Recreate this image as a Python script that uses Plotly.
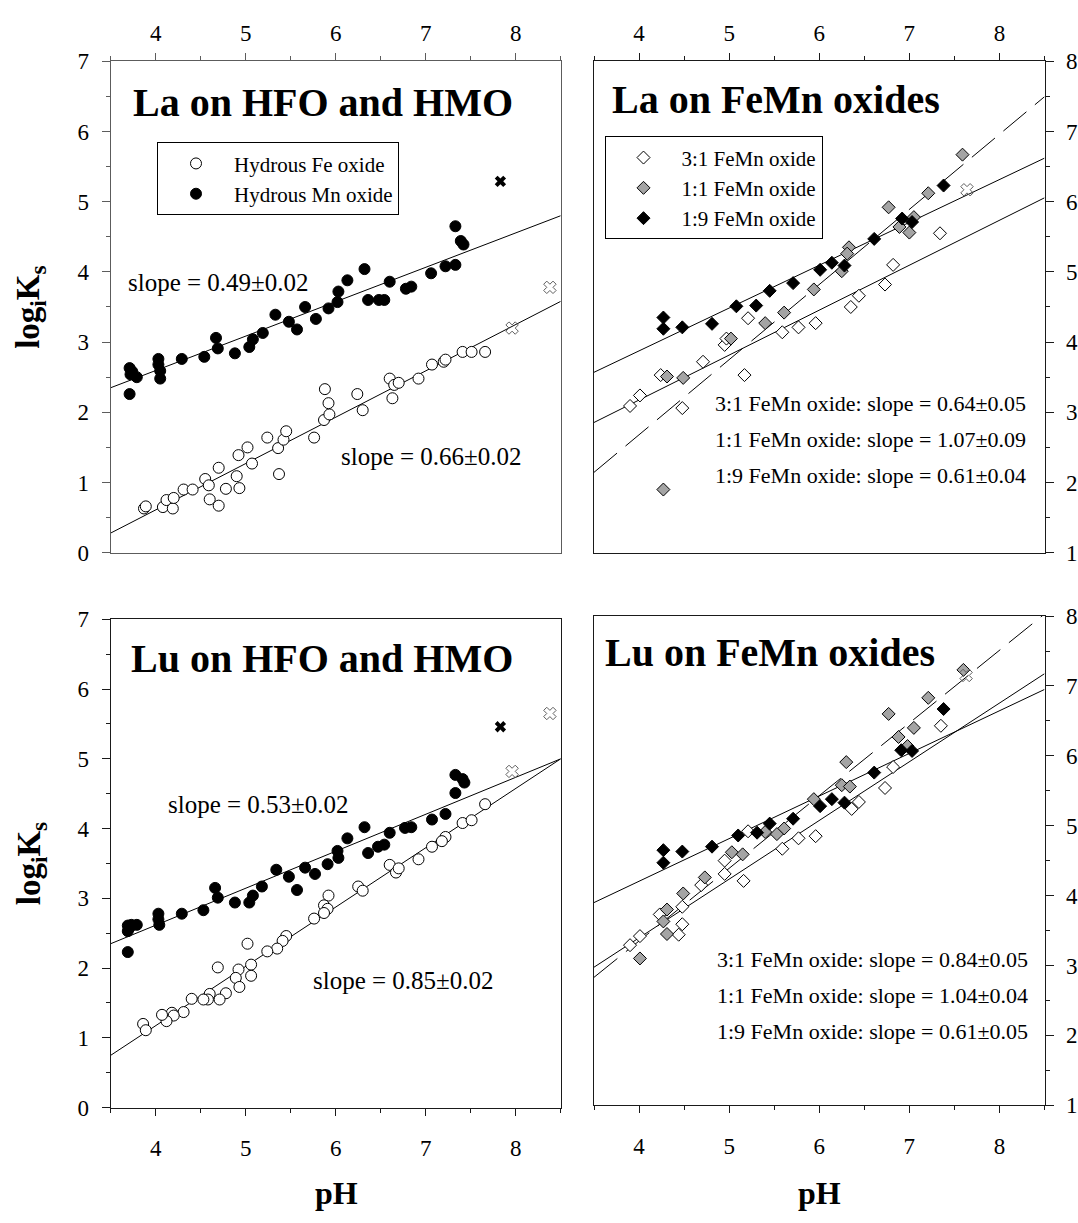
import plotly.graph_objects as go

W, H = 1078, 1223
FONT = '"Liberation Serif", "Times New Roman", Times, serif'

# ---------------- La on hydrous Fe / Mn oxides ----------------
la_fe_ph = [3.87, 3.89, 4.08, 4.12, 4.19, 4.20, 4.31, 4.41, 4.55, 4.59, 4.60, 4.70, 4.70, 4.78,
            4.90, 4.93, 4.92, 5.02, 5.07, 5.24, 5.37, 5.36, 5.42, 5.45, 5.76, 5.87, 5.93, 5.92,
            5.88, 6.24, 6.30, 6.60, 6.63, 6.65, 6.70, 6.92, 7.07, 7.20, 7.22, 7.41, 7.51, 7.66]
la_fe_logk = [0.63, 0.66, 0.65, 0.75, 0.63, 0.78, 0.90, 0.90, 1.05, 0.96, 0.76, 0.67, 1.21, 0.91,
              1.09, 0.92, 1.39, 1.50, 1.27, 1.64, 1.12, 1.49, 1.61, 1.73, 1.64, 1.89, 1.97, 2.13,
              2.33, 2.26, 2.03, 2.48, 2.20, 2.39, 2.42, 2.48, 2.68, 2.72, 2.75, 2.86, 2.86, 2.86]
la_mn_ph = [7.33, 7.39, 7.42, 7.22, 7.33, 7.06, 6.32, 6.13, 6.60, 6.78, 6.84, 6.03, 6.36, 6.48,
            6.54, 5.66, 5.92, 6.02, 5.78, 5.48, 5.57, 5.33, 5.19, 5.08, 5.04, 4.88, 4.67, 4.69,
            4.54, 4.29, 4.03, 4.03, 4.05, 4.05, 3.71, 3.74, 3.72, 3.79, 3.71]
la_mn_logk = [4.65, 4.44, 4.39, 4.08, 4.10, 3.98, 4.04, 3.88, 3.86, 3.76, 3.79, 3.72, 3.60, 3.60,
              3.60, 3.50, 3.48, 3.57, 3.33, 3.29, 3.18, 3.39, 3.13, 3.04, 2.93, 2.84, 3.06, 2.91,
              2.79, 2.76, 2.76, 2.68, 2.59, 2.48, 2.63, 2.58, 2.54, 2.50, 2.26]
la_hox_cross_dark = ([7.83], [5.29])
la_hox_cross_grey = ([8.38, 7.96], [3.78, 3.20])
la_fe_slope, la_fe_at6 = 0.66, 1.93
la_mn_slope, la_mn_at6 = 0.49, 3.575

# ---------------- La on FeMn binary oxides ----------------
la_31_ph = [7.34, 6.82, 6.73, 6.44, 6.35, 5.96, 5.77, 5.59, 5.21, 4.95, 4.97, 5.17, 4.71, 4.24,
            4.01, 3.90, 4.48]
la_31_logk = [5.55, 5.10, 4.82, 4.66, 4.50, 4.27, 4.21, 4.14, 4.34, 3.96, 4.05, 3.53, 3.72, 3.53,
              3.24, 3.09, 3.06]
la_11_ph = [7.59, 7.21, 6.77, 7.05, 6.89, 7.00, 6.33, 6.31, 6.25, 5.94, 5.61, 5.40, 5.02, 4.31,
            4.49, 4.27]
la_11_logk = [6.67, 6.12, 5.92, 5.78, 5.64, 5.56, 5.35, 5.26, 5.01, 4.75, 4.42, 4.27, 4.05, 3.51,
              3.49, 1.90]
la_19_ph = [7.38, 6.92, 7.03, 6.61, 6.28, 6.14, 6.01, 5.71, 5.45, 5.30, 5.08, 4.81, 4.48, 4.27, 4.27]
la_19_logk = [6.23, 5.76, 5.71, 5.47, 5.09, 5.13, 5.03, 4.84, 4.73, 4.52, 4.51, 4.26, 4.21, 4.35, 4.19]
la_femn_cross_grey = ([7.64], [6.17])
la_31_slope, la_31_at6 = 0.64, 4.455
la_11_slope, la_11_at6 = 1.07, 4.82
la_19_slope, la_19_at6 = 0.61, 5.095

# ---------------- Lu on hydrous Fe / Mn oxides ----------------
lu_fe_ph = [7.66, 7.41, 7.51, 7.22, 7.18, 7.07, 6.92, 6.60, 6.67, 6.70, 6.25, 6.30, 5.92, 5.87,
            5.91, 5.87, 5.76, 5.45, 5.41, 5.35, 5.24, 5.02, 5.06, 5.06, 4.92, 4.89, 4.93, 4.69,
            4.78, 4.60, 4.58, 4.71, 4.53, 4.40, 4.31, 4.18, 4.20, 4.12, 4.07, 3.86, 3.89]
lu_fe_logk = [4.35, 4.08, 4.12, 3.88, 3.82, 3.74, 3.56, 3.48, 3.37, 3.43, 3.17, 3.11, 3.04, 2.90,
              2.85, 2.79, 2.71, 2.46, 2.39, 2.28, 2.24, 2.35, 2.05, 1.89, 1.98, 1.86, 1.73, 2.01,
              1.64, 1.63, 1.55, 1.55, 1.55, 1.56, 1.37, 1.36, 1.32, 1.24, 1.33, 1.20, 1.11]
lu_mn_ph = [7.33, 7.41, 7.43, 7.33, 7.22, 7.07, 6.77, 6.84, 6.32, 6.60, 6.13, 6.47, 6.54, 6.36,
            6.02, 6.03, 5.91, 5.77, 5.66, 5.34, 5.48, 5.57, 5.18, 5.08, 5.04, 4.88, 4.66, 4.69,
            4.53, 4.29, 4.03, 4.03, 4.04, 3.69, 3.73, 3.79, 3.69, 3.71, 3.69]
lu_mn_logk = [4.77, 4.71, 4.66, 4.51, 4.21, 4.13, 4.01, 4.02, 4.02, 3.94, 3.86, 3.74, 3.77, 3.65,
              3.68, 3.58, 3.49, 3.35, 3.44, 3.41, 3.31, 3.12, 3.17, 3.04, 2.94, 2.94, 3.15, 3.01,
              2.83, 2.78, 2.78, 2.70, 2.62, 2.61, 2.62, 2.62, 2.53, 2.58, 2.23]
lu_hox_cross_dark = ([7.83], [5.46])
lu_hox_cross_grey = ([8.38, 7.96], [5.65, 4.82])
lu_fe_slope, lu_fe_at6 = 0.85, 2.875
lu_mn_slope, lu_mn_at6 = 0.53, 3.675

# ---------------- Lu on FeMn binary oxides ----------------
lu_31_ph = [7.35, 6.82, 6.73, 6.44, 6.36, 5.96, 5.77, 5.59, 5.21, 4.95, 4.95, 5.16, 4.69, 4.48,
            4.23, 4.48, 4.44, 4.01, 3.90]
lu_31_logk = [6.43, 5.84, 5.54, 5.34, 5.24, 4.85, 4.82, 4.67, 4.92, 4.50, 4.31, 4.21, 4.15, 3.84,
              3.73, 3.59, 3.44, 3.42, 3.29]
lu_11_ph = [7.60, 7.21, 6.77, 7.05, 6.88, 6.98, 6.30, 6.25, 6.34, 5.94, 5.61, 5.53, 5.40, 5.03,
            5.15, 4.73, 4.49, 4.31, 4.27, 4.31, 4.01]
lu_11_logk = [7.23, 6.83, 6.60, 6.40, 6.27, 6.14, 5.91, 5.58, 5.56, 5.38, 4.96, 4.88, 4.91, 4.62,
              4.59, 4.26, 4.03, 3.80, 3.63, 3.45, 3.10]
lu_19_ph = [7.38, 6.91, 7.03, 6.61, 6.28, 6.14, 6.01, 5.71, 5.45, 5.31, 5.10, 4.81, 4.48, 4.27, 4.27]
lu_19_logk = [6.67, 6.08, 6.07, 5.76, 5.33, 5.38, 5.28, 5.10, 5.03, 4.90, 4.86, 4.70, 4.63, 4.65, 4.47]
lu_femn_cross_grey = ([7.63], [7.15])
lu_31_slope, lu_31_at6 = 0.84, 5.075
lu_11_slope, lu_11_at6 = 1.04, 5.43
lu_19_slope, lu_19_at6 = 0.61, 5.425

PH_RANGE = [3.5, 8.5]
PH_TICKS = [4, 5, 6, 7, 8]

fig = go.Figure()


def fit_line(slope, at6, xa, ya, dash="solid"):
    xs = PH_RANGE
    ys = [at6 + slope * (x - 6.0) for x in xs]
    fig.add_trace(go.Scatter(x=xs, y=ys, mode="lines", xaxis=xa, yaxis=ya, showlegend=False,
                             line=dict(color="black", width=1, dash=dash), hoverinfo="skip"))


def points(xs, ys, xa, ya, symbol, fill, size, name=None, legend=None, line_color="black"):
    fig.add_trace(go.Scatter(
        x=xs, y=ys, mode="markers", xaxis=xa, yaxis=ya, name=name,
        showlegend=name is not None, legend=legend,
        marker=dict(symbol=symbol, size=size, color=fill,
                    line=dict(color=line_color, width=1))))


def crosses(dark, grey, xa, ya):
    if dark is not None:
        fig.add_trace(go.Scatter(x=dark[0], y=dark[1], mode="markers", xaxis=xa, yaxis=ya,
                                 showlegend=False,
                                 marker=dict(symbol="x", size=10, color="black", line=dict(width=0))))
    fig.add_trace(go.Scatter(x=grey[0], y=grey[1], mode="markers", xaxis=xa, yaxis=ya,
                             showlegend=False,
                             marker=dict(symbol="x-open", size=11, color="#5e5e5e",
                                         line=dict(width=1, color="#5e5e5e"))))


DASH = "30px,11px"
GREY = "#a4a4a4"

# top left: La on HFO / HMO
fit_line(la_mn_slope, la_mn_at6, "x", "y")
fit_line(la_fe_slope, la_fe_at6, "x", "y")
points(la_fe_ph, la_fe_logk, "x", "y", "circle", "white", 11, "Hydrous Fe oxide", "legend")
points(la_mn_ph, la_mn_logk, "x", "y", "circle", "black", 11, "Hydrous Mn oxide", "legend")
crosses(la_hox_cross_dark, la_hox_cross_grey, "x", "y")

# top right: La on FeMn oxides
fit_line(la_31_slope, la_31_at6, "x2", "y2")
fit_line(la_19_slope, la_19_at6, "x2", "y2")
fit_line(la_11_slope, la_11_at6, "x2", "y2", DASH)
points(la_31_ph, la_31_logk, "x2", "y2", "diamond", "white", 10, "3:1 FeMn oxide", "legend2")
points(la_11_ph, la_11_logk, "x2", "y2", "diamond", GREY, 10, "1:1 FeMn oxide", "legend2")
points(la_19_ph, la_19_logk, "x2", "y2", "diamond", "black", 10, "1:9 FeMn oxide", "legend2")
crosses(None, la_femn_cross_grey, "x2", "y2")

# bottom left: Lu on HFO / HMO
fit_line(lu_mn_slope, lu_mn_at6, "x3", "y3")
fit_line(lu_fe_slope, lu_fe_at6, "x3", "y3")
points(lu_fe_ph, lu_fe_logk, "x3", "y3", "circle", "white", 11)
points(lu_mn_ph, lu_mn_logk, "x3", "y3", "circle", "black", 11)
crosses(lu_hox_cross_dark, lu_hox_cross_grey, "x3", "y3")

# bottom right: Lu on FeMn oxides
fit_line(lu_31_slope, lu_31_at6, "x4", "y4")
fit_line(lu_19_slope, lu_19_at6, "x4", "y4")
fit_line(lu_11_slope, lu_11_at6, "x4", "y4", DASH)
points(lu_31_ph, lu_31_logk, "x4", "y4", "diamond", "white", 10)
points(lu_11_ph, lu_11_logk, "x4", "y4", "diamond", GREY, 10)
points(lu_19_ph, lu_19_logk, "x4", "y4", "diamond", "black", 10)
crosses(None, lu_femn_cross_grey, "x4", "y4")

TICKFONT = dict(family=FONT, size=23, color="black")


def xaxis(domain, anchor, side, color, standoff):
    return dict(domain=domain, anchor=anchor, side=side, range=PH_RANGE,
                tickmode="array", tickvals=PH_TICKS,
                ticks="outside", ticklen=7, tickwidth=1, tickcolor=color,
                minor=dict(ticks="outside", ticklen=4, dtick=0.5, tick0=0,
                           tickcolor=color, tickwidth=1, showgrid=False),
                showline=True, linecolor=color, linewidth=1, mirror=True,
                showgrid=False, zeroline=False, tickfont=TICKFONT,
                ticklabelstandoff=standoff)


def yaxis(domain, anchor, side, lo, color):
    return dict(domain=domain, anchor=anchor, side=side, range=[lo, lo + 7],
                tickmode="linear", tick0=0, dtick=1,
                ticks="outside", ticklen=8, tickwidth=1, tickcolor=color,
                minor=dict(ticks="outside", ticklen=4, dtick=0.5, tick0=0,
                           tickcolor=color, tickwidth=1, showgrid=False),
                showline=True, linecolor=color, linewidth=1, mirror=True,
                showgrid=False, zeroline=False, tickfont=TICKFONT,
                ticklabelstandoff=8)


X_L = [110.7 / W, 560.7 / W]
X_R = [594.0 / W, 1044.5 / W]
Y_T = [1 - 552.0 / H, 1 - 50.3 / H]
Y_BL = [1 - 1118.5 / H, 1 - 620.0 / H]
Y_BR = [1 - 1116.0 / H, 1 - 616.7 / H]

FRAME_TL = "#5c5c5c"
FRAME = "#1a1a1a"

legend_common = dict(xanchor="left", yanchor="top", bordercolor="black", borderwidth=1,
                     bgcolor="white", font=dict(family=FONT, size=21, color="black"),
                     itemwidth=66, tracegroupgap=0, itemclick=False)

fig.update_layout(
    width=W, height=H, margin=dict(l=0, r=0, t=0, b=0),
    paper_bgcolor="white", plot_bgcolor="white",
    font=dict(family=FONT, color="black"),
    xaxis=xaxis(X_L, "y", "top", FRAME_TL, 3),
    yaxis=yaxis(Y_T, "x", "left", 0, FRAME_TL),
    xaxis2=xaxis(X_R, "y2", "top", FRAME, 3),
    yaxis2=yaxis(Y_T, "x2", "right", 1, FRAME),
    xaxis3=xaxis(X_L, "y3", "bottom", FRAME, 13),
    yaxis3=yaxis(Y_BL, "x3", "left", 0, FRAME),
    xaxis4=xaxis(X_R, "y4", "bottom", FRAME, 13),
    yaxis4=yaxis(Y_BR, "x4", "right", 1, FRAME),
    legend=dict(x=157 / W, y=1 - 133 / H, **legend_common),
    legend2=dict(x=604.5 / W, y=1 - 127 / H, **legend_common),
)


def note(text, x, y, xa, ya, size, bold=False, anchor="left"):
    fig.add_annotation(text=f"<b>{text}</b>" if bold else text, x=x, y=y, xref=xa, yref=ya,
                       xanchor=anchor, yanchor="middle", showarrow=False,
                       font=dict(family=FONT, size=size, color="black"))


# panel titles
note("La on HFO and HMO", 3.73, 6.41, "x", "y", 40, bold=True)
note("La on FeMn oxides", 3.68, 7.46, "x2", "y2", 40, bold=True)
note("Lu on HFO and HMO", 3.70, 6.44, "x3", "y3", 40, bold=True)
note("Lu on FeMn oxides", 3.60, 7.48, "x4", "y4", 40, bold=True)

# slope labels
note(f"slope = {la_mn_slope:.2f}\u00b10.02", 3.67, 3.85, "x", "y", 25)
note(f"slope = {la_fe_slope:.2f}\u00b10.02", 6.04, 1.37, "x", "y", 25)
note(f"slope = {lu_mn_slope:.2f}\u00b10.02", 4.11, 4.35, "x3", "y3", 25)
note(f"slope = {lu_fe_slope:.2f}\u00b10.02", 5.72, 1.82, "x3", "y3", 25)

note(f"3:1 FeMn oxide: slope = {la_31_slope:.2f}\u00b10.05", 4.82, 3.13, "x2", "y2", 22)
note(f"1:1 FeMn oxide: slope = {la_11_slope:.2f}\u00b10.09", 4.82, 2.61, "x2", "y2", 22)
note(f"1:9 FeMn oxide: slope = {la_19_slope:.2f}\u00b10.04", 4.82, 2.10, "x2", "y2", 22)
note(f"3:1 FeMn oxide: slope = {lu_31_slope:.2f}\u00b10.05", 4.84, 3.08, "x4", "y4", 22)
note(f"1:1 FeMn oxide: slope = {lu_11_slope:.2f}\u00b10.04", 4.84, 2.57, "x4", "y4", 22)
note(f"1:9 FeMn oxide: slope = {lu_19_slope:.2f}\u00b10.05", 4.84, 2.06, "x4", "y4", 22)

# axis titles
for yc in (1 - 302 / H, 1 - 870 / H):
    fig.add_annotation(text="<b>log<sub>i</sub>K<sub>s</sub></b>", x=31 / W, y=yc,
                       xref="paper", yref="paper", xanchor="center", yanchor="middle",
                       textangle=-90, showarrow=False,
                       font=dict(family=FONT, size=33, color="black"))
for xc in (336 / W, 819.5 / W):
    fig.add_annotation(text="<b>pH</b>", x=xc, y=1 - 1206 / H, xref="paper", yref="paper",
                       xanchor="center", yanchor="middle", showarrow=False,
                       font=dict(family=FONT, size=32, color="black"))

fig.write_html("out.html")
